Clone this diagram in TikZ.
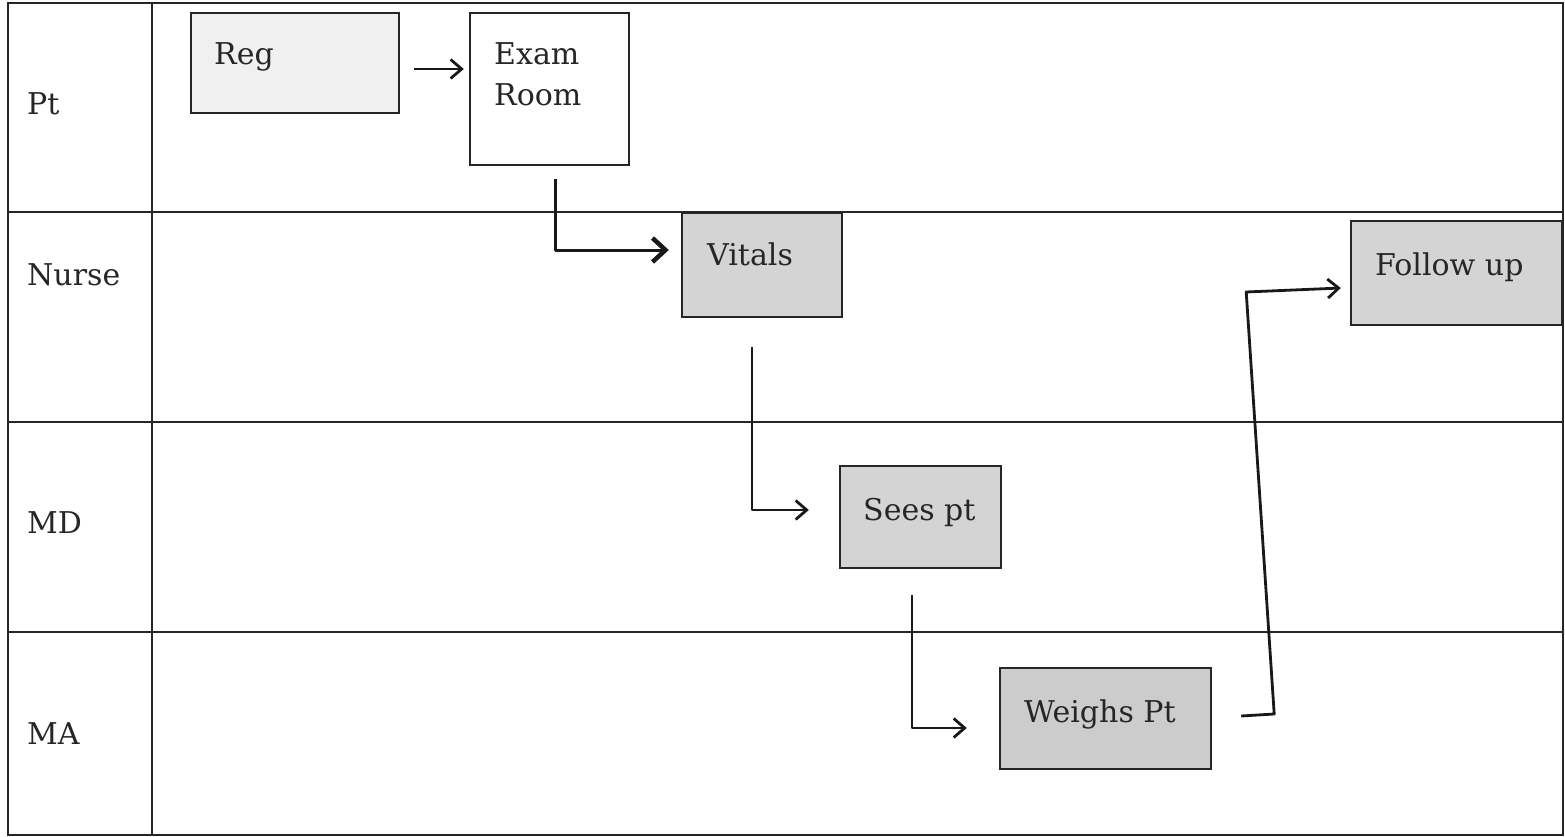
\documentclass[tikz,border=0pt]{standalone}
\usepackage{fontspec}
\setmainfont{DejaVu Serif}
\usetikzlibrary{arrows.meta}
\begin{document}
\begin{tikzpicture}[x=1pt,y=-1pt,
  grid/.style={line width=1.8pt,black!85},
  box/.style={draw=black!85,line width=2.4pt,inner sep=0pt},
  txt/.style={anchor=base west,inner sep=0pt,font=\fontsize{30}{36}\selectfont,text=black!85},
  arr/.style={line width=2.8pt,black!90,line join=round,-{Straight Barb[length=11pt,width=19pt,line width=2.8pt]}},
  bigarr/.style={line width=3pt,black!90,line join=round,-{Straight Barb[length=13pt,width=24pt,line width=4.5pt]}}]
\useasboundingbox (0,0) rectangle (1565,837);
% table
\draw[grid] (8,3) rectangle (1563,835);
\draw[grid] (152,3) -- (152,835);
\draw[grid] (8,212) -- (1563,212);
\draw[grid] (8,422) -- (1563,422);
\draw[grid] (8,632) -- (1563,632);
% lane labels
\node[txt] (lpt) at (27,115) {Pt};
\node[txt] (lnurse) at (27,285) {Nurse};
\node[txt] (lmd) at (27,533) {MD};
\node[txt] (lma) at (27,744) {MA};
% boxes
\node[box,fill=black!6,minimum width=208pt,minimum height=100pt] (reg) at (295,63) {};
\node[box,fill=white,minimum width=159pt,minimum height=152pt] (exam) at (549.5,89) {};
\node[box,fill=black!17,minimum width=160pt,minimum height=104pt] (vitals) at (762,265) {};
\node[box,fill=black!17,minimum width=211pt,minimum height=104pt] (follow) at (1456.5,273) {};
\node[box,fill=black!17,minimum width=161pt,minimum height=102pt] (sees) at (920.5,517) {};
\node[box,fill=black!20,minimum width=211pt,minimum height=101pt] (weighs) at (1105.5,718.5) {};
% box texts
\node[txt] (tReg) at (214,65) {Reg};
\node[txt] (tExam) at (494,65) {Exam};
\node[txt] (tRoom) at (494,106) {Room};
\node[txt] (tVit) at (707,265) {Vitals};
\node[txt] (tFol) at (1375,275) {Follow up};
\node[txt] (tSees) at (863,520) {Sees pt};
\node[txt] (tWei) at (1024,722) {Weighs Pt};
% connectors
\draw[arr] ([xshift=14pt,yshift=-6pt]reg.east) coordinate (a1) -- ([xshift=-5pt]exam.west |- a1);
\draw[bigarr] ([xshift=5.5pt,yshift=-13pt]exam.south) |- ([xshift=-12pt,yshift=15pt]vitals.west);
\draw[arr] ([xshift=-10pt,yshift=-29pt]vitals.south) |- ([xshift=-30pt,yshift=7pt]sees.west);
\draw[arr] ([xshift=-8.5pt,yshift=-26pt]sees.south) |- ([xshift=-32pt,yshift=-9.5pt]weighs.west);
\draw[arr] ([xshift=29pt,yshift=2.5pt]weighs.east) -- ++(33,-2) -- ++(-28,-422) -- ([xshift=-9pt,yshift=-15pt]follow.west);
\end{tikzpicture}
\end{document}
